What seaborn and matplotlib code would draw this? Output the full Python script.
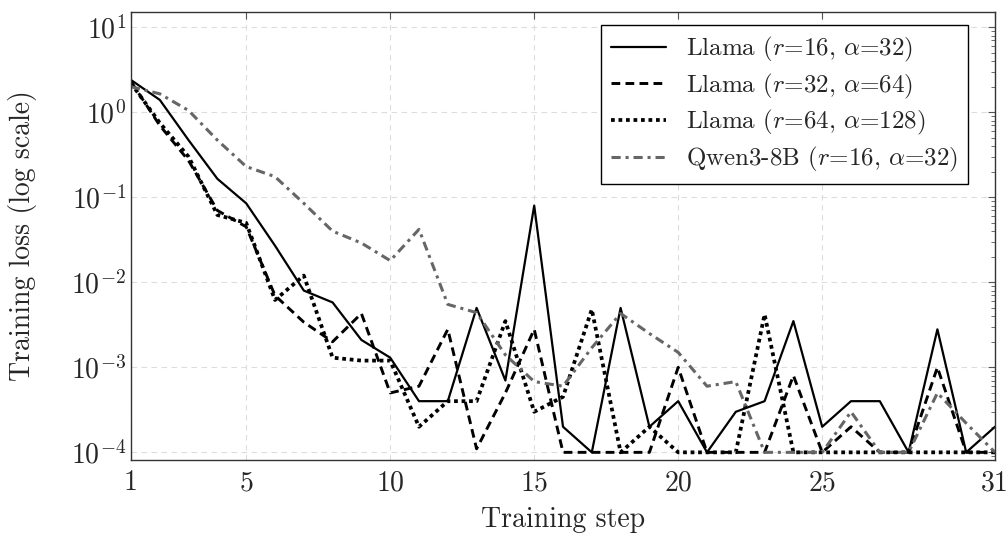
import matplotlib
matplotlib.use('Agg')
import matplotlib.pyplot as plt
import matplotlib.ticker as mticker
import seaborn as sns
import numpy as np
import pandas as pd

steps = list(range(1, 32))

llama_r16 = [2.4, 1.4, 0.47, 0.165, 0.085, 0.027, 0.008, 0.0058, 0.0021, 0.0013,
             0.0004, 0.0004, 0.005, 0.0007, 0.08, 0.0002, 0.0001, 0.005, 0.0002, 0.0004,
             0.0001, 0.0003, 0.0004, 0.0035, 0.0002, 0.0004, 0.0004, 0.0001, 0.0028, 0.0001,
             0.0002]
llama_r32 = [2.3, 0.7, 0.27, 0.07, 0.045, 0.007, 0.0034, 0.002, 0.0043, 0.0005,
             0.0006, 0.0028, 0.00011, 0.0005, 0.0028, 0.0001, 0.0001, 0.0001, 0.0001, 0.001,
             0.0001, 0.0001, 0.0001, 0.0008, 0.0001, 0.0002, 0.0001, 0.0001, 0.001, 0.0001,
             0.0001]
llama_r64 = [2.2, 0.75, 0.3, 0.062, 0.05, 0.0062, 0.012, 0.0013, 0.0012, 0.0012,
             0.0002, 0.0004, 0.0004, 0.0035, 0.0003, 0.00045, 0.0048, 0.0001, 0.0002, 0.0001,
             0.0001, 0.0001, 0.0042, 0.0001, 0.0001, 0.0001, 0.0001, 0.0001, 0.0001, 0.0001,
             0.0001]
qwen_r16 = [2.0, 1.65, 1.05, 0.47, 0.23, 0.175, 0.085, 0.04, 0.029, 0.018,
            0.042, 0.0055, 0.0044, 0.0014, 0.00068, 0.0006, 0.0017, 0.0043, 0.0025, 0.0015,
            0.0006, 0.00068, 0.0001, 0.0001, 0.0001, 0.0003, 0.0001, 0.0001, 0.0005, 0.00022,
            0.0001]

labels = [r'Llama ($r$=16, $\alpha$=32)', r'Llama ($r$=32, $\alpha$=64)',
          r'Llama ($r$=64, $\alpha$=128)', r'Qwen3-8B ($r$=16, $\alpha$=32)']
x_ticks = [1, 5, 10, 15, 20, 25, 31]

sns.set_style('white')
plt.rcParams['font.family'] = 'serif'
plt.rcParams['font.serif'] = ['cmr10']
plt.rcParams['mathtext.fontset'] = 'cm'
plt.rcParams['axes.formatter.use_mathtext'] = True
plt.rcParams['axes.unicode_minus'] = False

fig = plt.figure(figsize=(10.08, 5.35), dpi=100)
ax = fig.add_axes([131 / 1008, 1 - 460 / 535, 864 / 1008, 448 / 535])

styles = [
    dict(color='black', linewidth=1.6, linestyle='-'),
    dict(color='black', linewidth=2.1, linestyle=(0, (3, 1.8))),
    dict(color='black', linewidth=2.7, linestyle=(0, (1, 1)), dash_capstyle='butt'),
    dict(color='#666666', linewidth=2.2, linestyle=(0, (3, 1.6, 1, 1.6))),
]
series = [llama_r16, llama_r32, llama_r64, qwen_r16]
for vals, lab, st in zip(series, labels, styles):
    sns.lineplot(x=steps, y=vals, ax=ax, label=lab, **st)

ax.set_yscale('log')
ax.set_xlim(1, 31)
ax.set_ylim(10 ** -4.09, 10 ** 1.18)
ax.set_xticks(x_ticks)
ax.set_xticklabels([str(t) for t in x_ticks])
ax.yaxis.set_major_locator(mticker.LogLocator(base=10, numticks=10))
ax.yaxis.set_minor_locator(mticker.LogLocator(base=10, subs=np.arange(2, 10), numticks=20))
ax.yaxis.set_minor_formatter(mticker.NullFormatter())

ax.grid(True, which='major', color='#dddddd', linestyle=(0, (5, 4)), linewidth=0.8)
ax.tick_params(axis='both', which='both', direction='in', top=True, right=True,
               labelsize=20, color='#555555')
ax.tick_params(axis='both', which='major', length=5, width=0.8)
ax.tick_params(axis='y', which='minor', length=3, width=0.6)
ax.tick_params(axis='x', which='major', pad=7)
for s in ax.spines.values():
    s.set_color('#333333')
    s.set_linewidth(1.0)

ax.set_xlabel('Training step', fontsize=20, labelpad=8)
ax.set_ylabel('Training loss (log scale)', fontsize=20, labelpad=24)

leg = ax.legend(loc='upper right', bbox_to_anchor=(0.969, 0.971), borderaxespad=0,
                fontsize=18, frameon=True, fancybox=False, edgecolor='black',
                framealpha=1, handlelength=2.2, labelspacing=0.3, borderpad=0.4)
leg.get_frame().set_linewidth(1.0)

fig.savefig('out.png', dpi=100)
